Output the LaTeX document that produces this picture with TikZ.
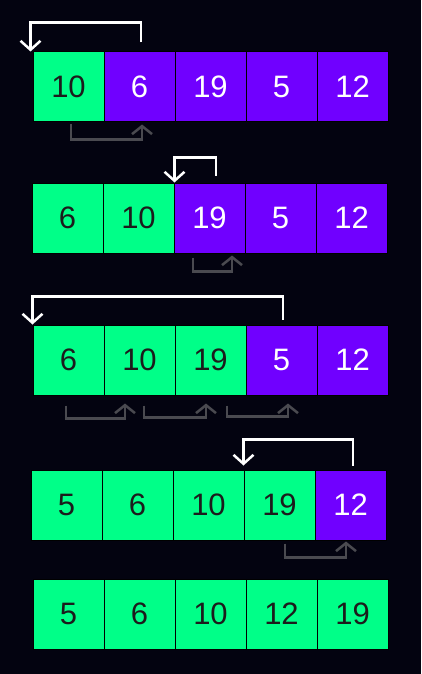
\documentclass[tikz,border=0pt]{standalone}
\usepackage{fontspec}
\setmainfont{Liberation Sans}
\usetikzlibrary{arrows.meta}
\definecolor{bg}{RGB}{3,3,16}
\definecolor{grn}{RGB}{0,255,136}
\definecolor{prp}{RGB}{112,0,255}
\definecolor{ink}{RGB}{28,28,28}
\definecolor{gry}{RGB}{74,74,80}
\begin{document}
\begin{tikzpicture}[x=1pt,y=-1pt,
  cell/.style={minimum width=71pt,minimum height=70pt,inner sep=0pt,draw=black,line width=1pt,font=\fontsize{31}{31}\selectfont},
  done/.style={cell,fill=grn,text=ink},
  todo/.style={cell,fill=prp,text=white},
  jump/.style={draw=white,line width=2.5pt,-{Straight Barb[length=9pt,width=20pt]}},
  shiftarrow/.style={draw=gry,line width=2.5pt,-{Straight Barb[length=8pt,width=20pt]}}]
\fill[bg] (0,0) rectangle (421,674);
\useasboundingbox (0,0) rectangle (421,674);
% row 1
\foreach \v/\s [count=\i] in {10/done,6/todo,19/todo,5/todo,12/todo}
  \node[\s] (r1c\i) at ({33+35.5+71*(\i-1)},87) {\v};
% row 2
\foreach \v/\s [count=\i] in {6/done,10/done,19/todo,5/todo,12/todo}
  \node[\s] (r2c\i) at ({32+35.5+71*(\i-1)},218) {\v};
% row 3
\foreach \v/\s [count=\i] in {6/done,10/done,19/done,5/todo,12/todo}
  \node[\s] (r3c\i) at ({33+35.5+71*(\i-1)},360) {\v};
% row 4
\foreach \v/\s [count=\i] in {5/done,6/done,10/done,19/done,12/todo}
  \node[\s] (r4c\i) at ({31+35.5+71*(\i-1)},505) {\v};
% row 5
\foreach \v/\s [count=\i] in {5/done,6/done,10/done,12/done,19/done}
  \node[\s] (r5c\i) at ({33+35.5+71*(\i-1)},614) {\v};
% white jump arrows
\draw[jump] ([xshift=1.5pt,yshift=9pt]r1c2.north) -- ++(0,-20) -| ([xshift=-2pt]r1c1.north west);
\draw[jump] ([xshift=6.5pt,yshift=7pt]r2c3.north) -- ++(0,-18) -| ([xshift=1pt]r2c3.north west);
\draw[jump] ([xshift=1.5pt,yshift=5pt]r3c4.north) -- ++(0,-23) -| (r3c1.north west);
\draw[jump] ([xshift=2.5pt,yshift=4pt]r4c5.north) -- ++(0,-26) -| ([yshift=4pt]r4c4.north west);
% grey shift arrows
\draw[shiftarrow] ([xshift=2.5pt,yshift=-2pt]r1c1.south) -- ++(0,15) -| ([xshift=2.5pt,yshift=-2pt]r1c2.south);
\draw[shiftarrow] ([xshift=-16.5pt,yshift=-4pt]r2c3.south) -- ++(0,14) -| ([xshift=22.5pt,yshift=-2pt]r2c3.south);
\draw[shiftarrow] ([xshift=-2.5pt,yshift=-10pt]r3c1.south) -- ++(0,13) -| ([xshift=-14.5pt,yshift=-8pt]r3c2.south);
\draw[shiftarrow] ([xshift=4.5pt,yshift=-10pt]r3c2.south) -- ++(0,12) -| ([xshift=-4.5pt,yshift=-8pt]r3c3.south);
\draw[shiftarrow] ([xshift=16.5pt,yshift=-10pt]r3c3.south) -- ++(0,11) -| ([xshift=6.5pt,yshift=-8pt]r3c4.south);
\draw[shiftarrow] ([xshift=5.5pt,yshift=-3pt]r4c4.south) -- ++(0,14) -| ([xshift=-4.5pt,yshift=-1pt]r4c5.south);
\end{tikzpicture}
\end{document}
